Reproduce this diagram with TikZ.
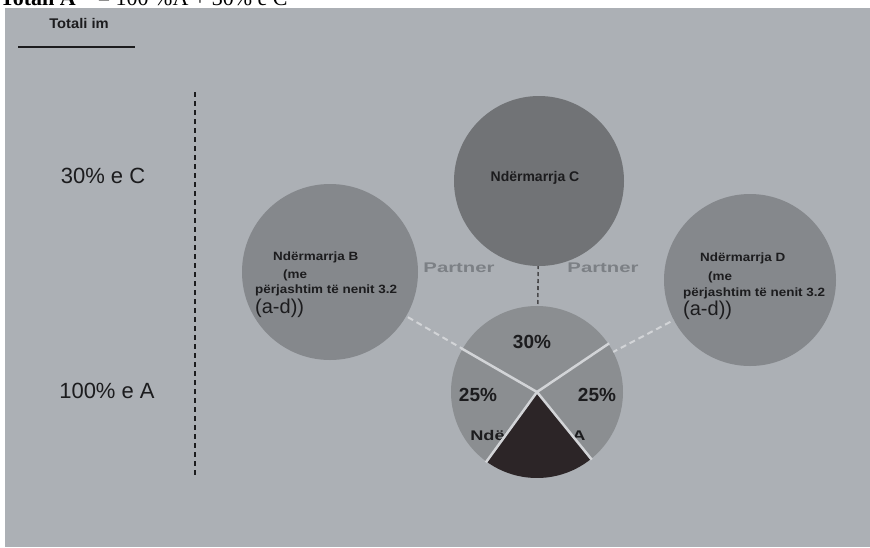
\documentclass[tikz,border=0pt]{standalone}
\usepackage{fontspec}
\setmainfont{Liberation Sans}
\newfontfamily\titleserif{Liberation Serif}
\definecolor{bgfill}{HTML}{ACB0B5}
\definecolor{circfill}{HTML}{85888C}
\definecolor{cfill}{HTML}{717376}
\definecolor{piefill}{HTML}{8B8E91}
\definecolor{piedark}{HTML}{2C2527}
\definecolor{sepcol}{HTML}{D2D4D7}
\definecolor{partcol}{HTML}{7C8085}
\definecolor{inkcol}{HTML}{1C1C1E}
\begin{document}
\begin{tikzpicture}[x=1pt,y=-1pt,
  bubble/.style={circle, fill=circfill, inner sep=0pt, minimum size=#1},
  ctext/.style={anchor=west, text=inkcol, font=\bfseries\fontsize{12}{12}\selectfont, xscale=1.12, inner sep=0pt},
  adtext/.style={anchor=west, text=inkcol, font=\fontsize{20}{20}\selectfont, inner sep=0pt},
  sidelbl/.style={text=inkcol, font=\fontsize{22}{22}\selectfont, inner sep=0pt},
  pctlbl/.style={text=inkcol, font=\bfseries\fontsize{19}{19}\selectfont, inner sep=0pt},
  partnerlbl/.style={text=partcol, font=\bfseries\fontsize{14}{14}\selectfont, xscale=1.45, inner sep=0pt},
  partnerline/.style={draw=sepcol, line width=2pt, dash pattern=on 6pt off 4pt},
  cline/.style={draw=inkcol!80, line width=1.6pt, dash pattern=on 4pt off 3pt},
  sepline/.style={draw=sepcol, line width=2.5pt}
]
\useasboundingbox (0,0) rectangle (870,547);
\fill[white] (0,0) rectangle (870,547);
\fill[bgfill] (5,8) rectangle (870,547);
% cut-off title at the very top
\begin{scope}
  \clip (0,0) rectangle (870,8);
  \node[anchor=base west, inner sep=0pt, font=\titleserif\fontsize{22}{22}\selectfont] (toptitle) at (0,5) {\textbf{Totali A}\quad = 100 \%A + 30\% e C};
\end{scope}
% header
\node[text=inkcol, font=\bfseries\fontsize{14}{14}\selectfont, xscale=1.05, inner sep=0pt] (totali) at (79,23) {Totali im};
\draw[inkcol, line width=1.6pt] (18,47) -- (135,47);
% vertical dashed divider
\draw[inkcol, line width=2pt, dash pattern=on 5pt off 4pt] (195,92) -- (195,475);
\node[sidelbl] (lblC) at (103,176) {30\% e C};
\node[sidelbl] (lblA) at (107,391) {100\% e A};
% node positions
\coordinate (Bc) at (330,272);
\coordinate (Dc) at (750,280);
\coordinate (Cc) at (539,181);
\coordinate (Ac) at (537,392);
% connectors (behind)
\draw[partnerline] (Bc) -- (Ac);
\draw[partnerline] (Dc) -- (Ac);
\draw[cline] (Cc) -- (Ac);
% circles
\node[bubble=176pt] (B) at (Bc) {};
\node[bubble=172pt] (D) at (Dc) {};
\node[bubble=170pt, fill=cfill] (C) at (Cc) {};
\node[circle, minimum size=172pt, inner sep=0pt] (A) at (Ac) {};
% partner labels
\node[partnerlbl] (p1) at (459,268) {Partner};
\node[partnerlbl] (p2) at (603,268) {Partner};
% texts in circles
\node[text=inkcol, font=\bfseries\fontsize{14}{14}\selectfont, inner sep=0pt] (tC) at (535,178) {Ndërmarrja C};
\node[ctext] (tB1) at (273,257) {Ndërmarrja B};
\node[ctext] (tB2) at (283,275) {(me};
\node[ctext] (tB3) at (255,290) {përjashtim të nenit 3.2};
\node[adtext] (tB4) at (255,308) {(a-d))};
\node[ctext] (tD1) at (700,258) {Ndërmarrja D};
\node[ctext] (tD2) at (708,277) {(me};
\node[ctext] (tD3) at (683,293) {përjashtim të nenit 3.2};
\node[adtext] (tD4) at (683,310) {(a-d))};
% pie
\begin{scope}[shift={(Ac)}, x=1pt, y=1pt]
  \fill[piefill] (0,0) -- (34:86) arc[start angle=34, end angle=150, radius=86] -- cycle;
  \fill[piefill] (0,0) -- (150:86) arc[start angle=150, end angle=234, radius=86] -- cycle;
  \fill[piefill] (0,0) -- (309:86) arc[start angle=309, end angle=394, radius=86] -- cycle;
\end{scope}
\node[text=inkcol, font=\bfseries\fontsize{14}{14}\selectfont, xscale=1.3, inner sep=0pt] (tA) at (528,437) {Ndërmarrja A};
\begin{scope}[shift={(Ac)}, x=1pt, y=1pt]
  \fill[piedark] (0,0) -- (234:86) arc[start angle=234, end angle=309, radius=86] -- cycle;
  \draw[sepline] (0,0) -- (34:87);
  \draw[sepline] (0,0) -- (150:87);
  \draw[sepline] (0,0) -- (234:87);
  \draw[sepline] (0,0) -- (309:87);
\end{scope}
\node[pctlbl] (pc30) at (532,342) {30\%};
\node[pctlbl] (pc25l) at (478,395) {25\%};
\node[pctlbl] (pc25r) at (597,395) {25\%};
\end{tikzpicture}
\end{document}
